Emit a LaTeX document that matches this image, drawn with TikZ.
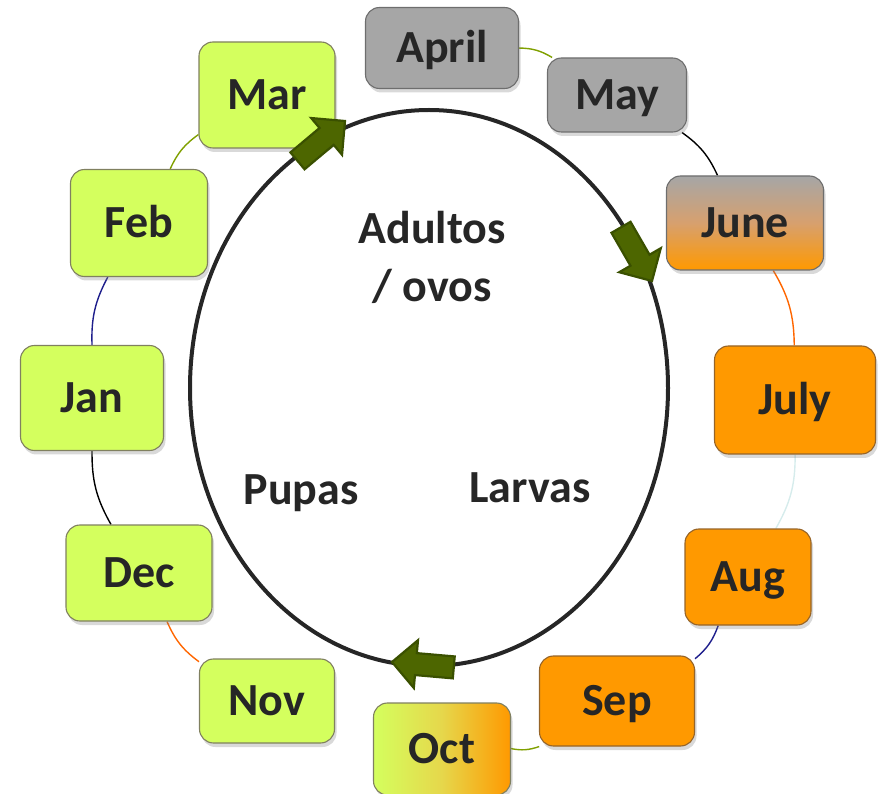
\documentclass[tikz,border=0pt]{standalone}
\usepackage{fontspec}
\setmainfont{Carlito}
\usetikzlibrary{shadows,shapes.geometric,backgrounds}
\definecolor{leaf}{RGB}{212,255,94}
\definecolor{leafline}{RGB}{128,128,96}
\definecolor{amber}{RGB}{255,153,0}
\definecolor{amberline}{RGB}{150,100,40}
\definecolor{stone}{RGB}{166,166,166}
\definecolor{stoneline}{RGB}{110,110,110}
\definecolor{ink}{RGB}{38,38,38}
\definecolor{olive}{RGB}{128,160,0}
\definecolor{navy}{RGB}{30,30,140}
\definecolor{tangerine}{RGB}{255,102,0}
\definecolor{mist}{RGB}{214,236,236}
\definecolor{moss}{RGB}{77,102,0}
\definecolor{mossline}{RGB}{58,80,0}
\newcommand\cyclearrow[3]{%
  \begin{scope}[shift={(#1,#2)},rotate=#3]
    \draw[bigarrow] (0,0) -- (-24,24) -- (-24,11) -- (-62,11) -- (-62,-11)
      -- (-24,-11) -- (-24,-24) -- cycle;
  \end{scope}}
\begin{document}
\begin{tikzpicture}[x=1pt,y=1pt,
  month/.style={draw, rounded corners=14pt, line width=1.1pt, inner sep=0pt,
    text height=29pt, text depth=0pt, text=ink,
    font=\fontsize{46}{50}\selectfont\bfseries,
    drop shadow={opacity=0.3, shadow xshift=2pt, shadow yshift=-4pt}},
  spring/.style={month, fill=leaf, draw=leafline},
  summer/.style={month, fill=amber, draw=amberline},
  grey/.style={month, fill=stone, draw=stoneline},
  link/.style={line width=1.4pt, bend left=15},
  bigarrow/.style={fill=moss, draw=mossline, line width=2.2pt, line join=miter},
  stage/.style={text=ink, font=\fontsize{46}{58}\selectfont\bfseries, align=center}]
\useasboundingbox (0,0) rectangle (879,-794);

% twelve months around the year
\node[grey,   minimum width=153, minimum height=81]  (apr) at (442,-48)  {April};
\node[grey,   minimum width=139, minimum height=74]  (may) at (617,-95)  {May};
\node[month, draw=stoneline, top color=stone, bottom color=amber, middle color={rgb,255:red,215;green,160;blue,110},
      minimum width=157, minimum height=94]  (jun) at (745,-223) {June};
\node[summer, minimum width=161, minimum height=108] (jul) at (795,-400) {July};
\node[summer, minimum width=126, minimum height=96]  (aug) at (748,-577) {Aug};
\node[summer, minimum width=155, minimum height=90]  (sep) at (617,-701) {Sep};
\node[month, draw=leafline, left color=leaf, right color=amber, middle color={rgb,255:red,230;green,215;blue,75},
      minimum width=137, minimum height=92]  (oct) at (442,-749) {Oct};
\node[spring, minimum width=135, minimum height=84]  (nov) at (267,-701) {Nov};
\node[spring, minimum width=146, minimum height=96]  (dec) at (139,-573) {Dec};
\node[spring, minimum width=143, minimum height=105] (jan) at (92,-398)  {Jan};
\node[spring, minimum width=137, minimum height=107] (feb) at (139,-223) {Feb};
\node[spring, minimum width=136, minimum height=106] (mar) at (267,-95)  {Mar};

% ring of connectors between consecutive months
\begin{scope}[on background layer]
\draw[link, olive]     (apr) to (may);
\draw[link, black]     (may) to (jun);
\draw[link, tangerine] (jun) to (jul);
\draw[link, mist]      (jul) to (aug);
\draw[link, navy]      (aug) to (sep);
\draw[link, olive]     (sep) to (oct);
\draw[link, white]     (oct) to (nov);
\draw[link, tangerine] (nov) to (dec);
\draw[link, black]     (dec) to (jan);
\draw[link, navy]      (jan) to (feb);
\draw[link, olive]     (feb) to (mar);
\draw[link, white]     (mar) to (apr);
\end{scope}

% life cycle
\node[draw=ink, line width=4pt, ellipse, minimum width=478, minimum height=556, inner sep=0pt] (cycle) at (429,-388) {};
\node[stage] (adult) at (432,-257) {Adultos\\/ ovos};
\node[stage, text height=29pt, text depth=0pt] (pupa) at (301,-490) {Pupas};
\node[stage, text height=29pt, text depth=0pt] (larva) at (530,-488) {Larvas};

\cyclearrow{345}{-121}{40}
\cyclearrow{652}{-281}{-60}
\cyclearrow{392}{-662}{175}
\end{tikzpicture}
\end{document}
